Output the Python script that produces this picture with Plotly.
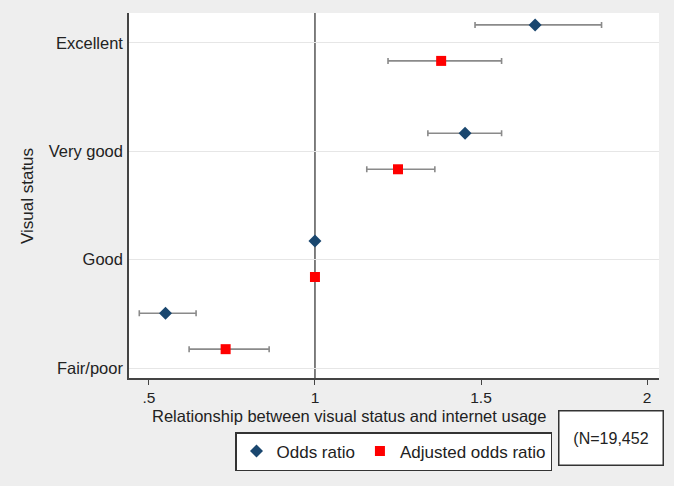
import plotly.graph_objects as go

categories = ["Fair/poor", "Good", "Very good", "Excellent"]
or_vals = [0.55, 1.0, 1.452, 1.663]
or_lo = [0.471, 1.0, 1.34, 1.482]
or_hi = [0.642, 1.0, 1.562, 1.863]
aor_vals = [0.731, 1.0, 1.25, 1.38]
aor_lo = [0.621, 1.0, 1.156, 1.22]
aor_hi = [0.862, 1.0, 1.361, 1.562]
x_ticks = [0.5, 1, 1.5, 2]
x_ticklabels = [".5", "1", "1.5", "2"]
n_label = "(N=19,452"

# layout: tick positions of category labels and centres of each OR/AOR pair
tick_pos = [1, 2, 3, 4]
row_centers = [1.34, 2.006, 3.0, 4.0]
off = 0.166

FONT = "Liberation Sans, Arial, sans-serif"

fig = go.Figure()
err_color = "#8a8a8a"

fig.add_trace(go.Scatter(
    x=or_vals, y=[p + off for p in row_centers], mode="markers", name="Odds ratio",
    marker=dict(symbol="diamond", size=10, color="#1a476f"),
    error_x=dict(type="data", symmetric=False,
                 array=[h - v for h, v in zip(or_hi, or_vals)],
                 arrayminus=[v - l for v, l in zip(or_vals, or_lo)],
                 color=err_color, thickness=1.6, width=3),
))
fig.add_trace(go.Scatter(
    x=aor_vals, y=[p - off for p in row_centers], mode="markers", name="Adjusted odds ratio",
    marker=dict(symbol="square", size=10, color="#ff0000"),
    error_x=dict(type="data", symmetric=False,
                 array=[h - v for h, v in zip(aor_hi, aor_vals)],
                 arrayminus=[v - l for v, l in zip(aor_vals, aor_lo)],
                 color=err_color, thickness=1.6, width=3),
))

fig.add_shape(type="line", xref="x", yref="paper", x0=1, x1=1, y0=0, y1=1,
              line=dict(color="#555555", width=1.5), layer="below")

fig.update_layout(
    width=674, height=486,
    margin=dict(l=129, r=15, t=13, b=108),
    paper_bgcolor="#eeeeee", plot_bgcolor="#ffffff",
    font=dict(family=FONT, size=16, color="#222222"),
    showlegend=True,
    legend=dict(orientation="h", x=(235 - 129) / 530, y=(378 - 432) / 365,
                xanchor="left", yanchor="top",
                bgcolor="#ffffff", bordercolor="#333333", borderwidth=1.5,
                font=dict(size=17, family=FONT, color="#222222"),
                itemwidth=30, traceorder="normal"),
    xaxis=dict(range=[0.44, 2.036], tickvals=x_ticks, ticktext=x_ticklabels,
               showgrid=False, zeroline=False, showline=True, linecolor="#444444",
               linewidth=1.5, ticks="outside", ticklen=5, tickcolor="#444444",
               tickwidth=1.2, tickfont=dict(size=15.5)),
    yaxis=dict(range=[0.908, 4.276], tickvals=tick_pos, ticktext=categories,
               showgrid=True, gridcolor="#e6e6e6", gridwidth=1, zeroline=False,
               showline=True, linecolor="#444444", linewidth=1.5, ticks="",
               ticklabelstandoff=1, tickfont=dict(size=16.5)),
)

fig.add_annotation(text="Relationship between visual status and internet usage",
                   xref="paper", yref="paper", x=(349 - 129) / 530, y=(378 - 416) / 365,
                   showarrow=False, font=dict(size=16.5), xanchor="center", yanchor="middle")
fig.add_annotation(text="Visual status", textangle=-90,
                   xref="paper", yref="paper", x=(27 - 129) / 530, y=(378 - 196) / 365,
                   showarrow=False, font=dict(size=17), xanchor="center", yanchor="middle")
fig.add_annotation(text=n_label, xref="paper", yref="paper",
                   x=(610.5 - 129) / 530, y=(378 - 437.5) / 365,
                   showarrow=False, font=dict(size=16), xanchor="center", yanchor="middle",
                   width=101, height=51, bgcolor="#ffffff", bordercolor="#333333",
                   borderwidth=1.5, borderpad=1)

fig.write_html("out.html", config={"displayModeBar": False},
               post_script="document.body.style.margin='0';document.body.style.padding='0';"
                           "document.body.style.background='#eeeeee';")
